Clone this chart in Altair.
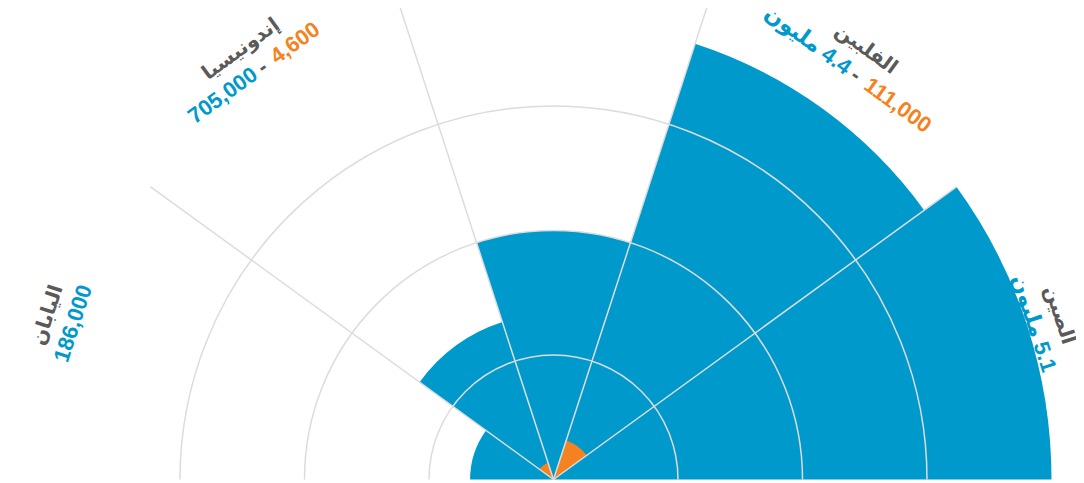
import math
import altair as alt
import pandas as pd

# ---------------- data ----------------
countries = ["اليابان", "إندونيسيا", "", "الفلبين", "الصين"]
# bar lengths in radial-grid units (grid rings at 1, 2, 3; outer edge at 4)
blue_values = [0.67, 1.33, 2.0, 3.68, 4.0]
orange_values = [0.0, 0.14, 0.0, 0.33, 0.0]
# U+200E keeps the Arabic word on the left of the number, as in the picture
blue_labels = ["186,000", "705,000", "", "مليون\u200e 4.4", "مليون\u200e 5.1"]
orange_labels = ["", "4,600", "", "111,000", ""]
grid_levels = [1, 2, 3]
radial_max = 4.0

# ---------------- styling ----------------
BLUE = "#0099cc"
ORANGE = "#f58220"
GRAY = "#5a5a5a"
GRID = "#dcdcdc"
FONT = "Liberation Sans, Arial, DejaVu Sans, sans-serif"

W, H = 1068, 475
CX, CY = 545.5, 471.5
R_PX = 498

n = len(countries)
theta_scale = alt.Scale(domain=[0, n], range=[-math.pi / 2, math.pi / 2])
r_scale = alt.Scale(domain=[0, radial_max], range=[0, R_PX])

sectors = pd.DataFrame({
    "start": list(range(n)),
    "end": list(range(1, n + 1)),
    "blue": blue_values,
    "orange": orange_values,
    "name": countries,
    "blue_label": blue_labels,
    "orange_label": orange_labels,
})
sectors["mid"] = sectors["start"] + 0.5
sectors["ang"] = (sectors["mid"] / n * 180 - 90) % 360
sectors["lr"] = 505 / R_PX * radial_max

pos = dict(x=alt.value(CX), y=alt.value(CY))
th = lambda f: alt.Theta(f"{f}:Q", scale=theta_scale, stack=False)
rad = lambda f: alt.Radius(f"{f}:Q", scale=r_scale)

blue = alt.Chart(sectors).mark_arc(color=BLUE).encode(
    theta=th("start"), theta2="end", radius=rad("blue"), **pos)

orange = alt.Chart(sectors).transform_filter("datum.orange > 0").mark_arc(color=ORANGE).encode(
    theta=th("start"), theta2="end", radius=rad("orange"), **pos)

rings = pd.DataFrame({"g": grid_levels, "t0": [0] * len(grid_levels), "t1": [n] * len(grid_levels)})
ring_layer = alt.Chart(rings).mark_arc(filled=False, color=GRID, strokeWidth=1.5).encode(
    theta=th("t0"), theta2="t1", radius=rad("g"), radius2="g", **pos)

spokes = pd.DataFrame({"b": list(range(1, n)), "r": [radial_max] * (n - 1)})
spoke_layer = alt.Chart(spokes).mark_arc(filled=False, color=GRID, strokeWidth=1.5).encode(
    theta=th("b"), theta2="b", radius=rad("r"), **pos)


def txt(flt, color, text, dx=0, dy=0, align="center", size=22, weight="bold"):
    return alt.Chart(sectors).transform_filter(flt).mark_text(
        color=color, dx=dx, dy=dy, align=align, baseline="middle",
        fontSize=size, fontWeight=weight, font=FONT,
    ).encode(theta=th("mid"), radius=rad("lr"),
             angle=alt.Angle("ang:Q", scale=None), text=text, **pos)


DASH = 7
names = txt("datum.name != ''", GRAY, alt.Text("name:N"), dy=-27, size=20)
single = txt("datum.blue_label != '' && datum.orange_label == ''", BLUE, alt.Text("blue_label:N"))
two_b = txt("datum.orange_label != ''", BLUE, alt.Text("blue_label:N"), dx=DASH - 9, align="right")
two_d = txt("datum.orange_label != ''", GRAY, alt.value("-"), dx=DASH)
two_o = txt("datum.orange_label != ''", ORANGE, alt.Text("orange_label:N"), dx=DASH + 13, align="left")

chart = alt.layer(
    blue, orange, ring_layer, spoke_layer, names, single, two_b, two_d, two_o
).properties(
    width=W, height=H, autosize=alt.AutoSizeParams(type="none"), padding=0
).configure_view(strokeWidth=0)

chart.save("out.html", embed_options={"renderer": "svg", "actions": False})
